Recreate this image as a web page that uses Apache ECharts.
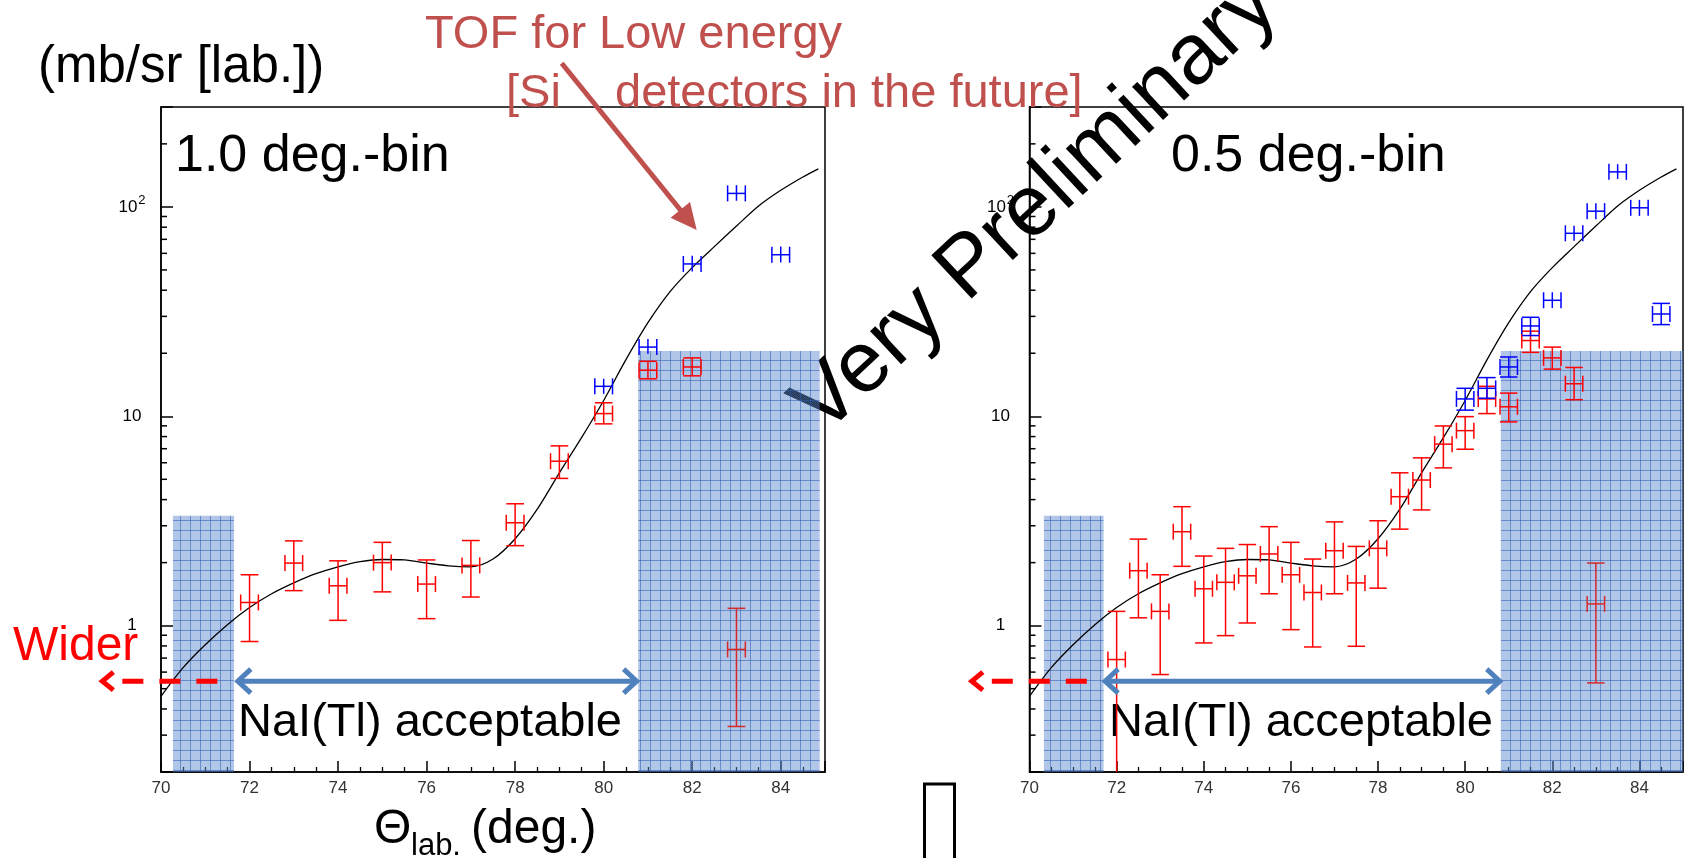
<!DOCTYPE html>
<html>
<head>
<meta charset="utf-8">
<title>Elastic scattering cross section</title>
<script src="https://cdn.jsdelivr.net/npm/echarts@6/dist/echarts.min.js"></script>
<style>
  html, body { margin: 0; padding: 0; background: #fff; }
  #chart { width: 1686px; height: 858px; }
</style>
</head>
<body>
<div id="chart"></div>
<script>
// theory curve (mb/sr, lab)
const theoryX = [70, 70.5, 71, 71.5, 72, 72.5, 73, 73.5, 74, 74.5, 75, 75.5, 76, 76.5, 77, 77.5, 78, 78.5, 79, 79.5, 80, 80.5, 81, 81.5, 82, 82.5, 83, 83.5, 84, 84.5, 84.85]
const theoryY = [0.46, 0.63, 0.81, 1.01, 1.22, 1.42, 1.6, 1.77, 1.91, 2.02, 2.07, 2.06, 1.99, 1.93, 1.91, 2.08, 2.6, 3.6, 5.37, 7.9, 11.9, 18.6, 28.0, 39.4, 51.3, 64.6, 81, 101, 120, 139, 152]

// 1.0 deg.-bin : NaI (red) and Si (blue)
const bin10RedX = [72, 73, 74, 75, 76, 77, 78, 79, 80, 81, 82]
const bin10RedY = [1.29, 1.99, 1.55, 2.0, 1.58, 1.94, 3.1, 6.1, 10.3, 16.6, 17.2]
const bin10RedLo = [0.84, 1.47, 1.06, 1.45, 1.08, 1.37, 2.41, 5.05, 9.2, 15.1, 15.6]
const bin10RedHi = [1.75, 2.54, 2.04, 2.5, 2.06, 2.55, 3.82, 7.22, 11.6, 18.3, 19.0]
const bin10FarX = [83]
const bin10FarY = [0.77]
const bin10FarLo = [0.33]
const bin10FarHi = [1.21]
const bin10BlueX = [80, 81, 82, 83, 84]
const bin10BlueY = [13.9, 21.4, 53.4, 116, 59.1]
const bin10BlueLo = [12.8, 19.9, 49.2, 107, 54.3]
const bin10BlueHi = [15.1, 23.4, 58.4, 127, 64.7]

// 0.5 deg.-bin
const bin05RedX = [72, 72.5, 73, 73.5, 74, 74.5, 75, 75.5, 76, 76.5, 77, 77.5, 78, 78.5, 79, 79.5, 80, 80.5, 81, 81.5, 82, 82.5]
const bin05RedY = [0.689, 1.83, 1.17, 2.81, 1.5, 1.61, 1.73, 2.2, 1.75, 1.44, 2.28, 1.6, 2.34, 4.13, 4.96, 7.36, 8.54, 12.1, 11.1, 23.0, 19.0, 14.3]
const bin05RedLo = [0.15, 1.09, 0.584, 1.92, 0.827, 0.896, 1.03, 1.42, 0.957, 0.791, 1.42, 0.797, 1.51, 2.89, 3.57, 5.67, 6.96, 10.3, 9.4, 20.2, 16.8, 12.0]
const bin05RedHi = [1.17, 2.59, 1.75, 3.7, 2.15, 2.34, 2.44, 2.97, 2.5, 2.08, 3.13, 2.39, 3.17, 5.37, 6.33, 8.99, 9.96, 13.9, 12.9, 25.5, 21.4, 17.1]
const bin05FarX = [83]
const bin05FarY = [1.27]
const bin05FarLo = [0.533]
const bin05FarHi = [1.99]
const bin05BlueX = [80, 80.5, 81, 81.5, 82, 82.5, 83, 83.5, 84, 84.5]
const bin05BlueY = [12.1, 13.6, 17.2, 27.0, 35.8, 74.8, 95.4, 147, 99, 30.8]
const bin05BlueLo = [10.7, 12.2, 15.4, 24.3, 32.9, 68.9, 87.3, 136, 90.6, 27.4]
const bin05BlueHi = [13.6, 15.3, 19.2, 29.7, 39.1, 81.2, 104, 160, 108, 34.6]

// shaded (not acceptable) angular regions
const shade10X0 = [70.27, 80.78]
const shade10X1 = [71.65, 84.88]
const shade10Top = [3.35, 20.5]
const shade05X0 = [70.33, 80.82]
const shade05X1 = [71.7, 85]
const shade05Top = [3.35, 20.5]

// axis ticks
const xTickLabels = [70, 72, 74, 76, 78, 80, 82, 84]
const yMinorTicks = [0.2, 0.3, 0.4, 0.5, 0.6, 0.7, 0.8, 0.9, 2, 3, 4, 5, 6, 7, 8, 9, 20, 30, 40, 50, 60, 70, 80, 90, 200]

const X_ERR = 0.2
const Y_MIN = 0.2, Y_MAX = 300
const FONT = "'Liberation Sans', Arial, sans-serif"

const chart = echarts.init(document.getElementById('chart'))

function gridPattern() {
  const c = document.createElement('canvas')
  c.width = 10
  c.height = 10
  const g = c.getContext('2d')
  g.fillStyle = 'rgba(70,120,200,0.45)'
  g.fillRect(0, 0, 10, 10)
  g.fillStyle = 'rgba(255,255,255,0.12)'
  for (let i = 0; i < 10; i++) {
    for (let j = 0; j < 10; j++) {
      if ((i + j) % 2) g.fillRect(i, j, 1, 1)
    }
  }
  g.fillStyle = 'rgba(40,95,175,0.55)'
  g.fillRect(0, 0, 10, 1)
  g.fillRect(0, 0, 1, 10)
  return c
}
const pattern = gridPattern()

function rows(...cols) {
  return cols[0].map((_, i) => cols.map(c => c[i]))
}

// ROOT-like error bar: caps only when the bar is longer than the end size
function errRender(color) {
  return function (params, api) {
    const x = api.value(0), y = api.value(1)
    const c = api.coord([x, y])
    const l = api.coord([x - X_ERR, y])[0]
    const r = api.coord([x + X_ERR, y])[0]
    const t = api.coord([x, api.value(3)])[1]
    const b = api.coord([x, api.value(2)])[1]
    const hw = (r - l) / 2, eh = 8
    const style = { stroke: color, lineWidth: 1.5, fill: 'none' }
    const seg = (x1, y1, x2, y2) => ({ type: 'line', shape: { x1, y1, x2, y2 }, style })
    const kids = [
      seg(c[0], t, c[0], b),
      seg(l, c[1], r, c[1]),
      seg(l, c[1] - eh, l, c[1] + eh),
      seg(r, c[1] - eh, r, c[1] + eh)
    ]
    if (c[1] - t > 8.5) kids.push(seg(c[0] - hw, t, c[0] + hw, t))
    if (b - c[1] > 8.5) kids.push(seg(c[0] - hw, b, c[0] + hw, b))
    return { type: 'group', children: kids }
  }
}

function shadeRender(params, api) {
  const p0 = api.coord([api.value(0), api.value(2)])
  const p1 = api.coord([api.value(1), Y_MIN])
  return {
    type: 'rect',
    shape: { x: p0[0], y: p0[1], width: p1[0] - p0[0], height: p1[1] - p0[1] },
    style: { fill: { image: pattern, repeat: 'repeat' } }
  }
}

function minorTickRender(params, api) {
  const p = api.coord([api.value(0), api.value(1)])
  return {
    type: 'line',
    shape: { x1: p[0], y1: p[1], x2: p[0] + 6, y2: p[1] },
    style: { stroke: '#000', lineWidth: 1.5 }
  }
}

// NaI acceptable double arrow + "wider" dashed arrow
function arrowRender(naiRange, widerRange) {
  const level = 0.543
  return function (params, api) {
    const a = api.coord([naiRange[0], level])
    const b = api.coord([naiRange[1], level])
    const ra = api.coord([widerRange[0], level])
    const rb = api.coord([widerRange[1], level])
    const blue = { stroke: '#4f81bd', lineWidth: 5, fill: 'none' }
    const red = { stroke: '#ff0000', lineWidth: 5, fill: 'none' }
    return {
      type: 'group',
      children: [
        { type: 'line', shape: { x1: a[0] + 3, y1: a[1], x2: b[0] - 3, y2: b[1] }, style: blue },
        { type: 'polyline', shape: { points: [[a[0] + 15, a[1] - 12], [a[0] + 2, a[1]], [a[0] + 15, a[1] + 12]] }, style: blue },
        { type: 'polyline', shape: { points: [[b[0] - 15, b[1] - 12], [b[0] - 2, b[1]], [b[0] - 15, b[1] + 12]] }, style: blue },
        { type: 'polyline', shape: { points: [[ra[0] + 13, ra[1] - 9], [ra[0] + 2, ra[1]], [ra[0] + 13, ra[1] + 9]] }, style: red },
        { type: 'line', shape: { x1: ra[0] + 22, y1: ra[1], x2: rb[0], y2: rb[1] }, style: Object.assign({ lineDash: [21, 16] }, red) }
      ]
    }
  }
}

function decadeLabel(v) {
  const e = Math.log10(v)
  if (Math.abs(e - Math.round(e)) > 1e-6) return ''
  const n = Math.round(e)
  if (n === 0) return '1'
  if (n === 1) return '10'
  return '10{sup|' + n + '}'
}

function panel(idx, d) {
  const ax = { xAxisIndex: idx, yAxisIndex: idx }
  return [
    {
      type: 'custom', ...ax, z: 3, silent: true, clip: true,
      data: rows(d.shadeX0, d.shadeX1, d.shadeTop),
      encode: { x: [0, 1], y: 2 },
      renderItem: shadeRender
    },
    {
      type: 'custom', ...ax, z: 2, silent: true, clip: false,
      data: yMinorTicks.map(v => [70, v]),
      renderItem: minorTickRender
    },
    {
      type: 'line', ...ax, z: 4, silent: true,
      data: rows(theoryX, theoryY),
      showSymbol: false, smooth: 0.3,
      lineStyle: { color: '#000', width: 1.3 }
    },
    {
      type: 'custom', ...ax, z: 5, clip: true,
      data: rows(d.farX, d.farY, d.farLo, d.farHi),
      encode: { x: 0, y: 1 },
      renderItem: errRender('#d42a2a')
    },
    {
      type: 'custom', ...ax, z: 6, clip: true,
      data: rows(d.redX, d.redY, d.redLo, d.redHi),
      encode: { x: 0, y: 1 },
      renderItem: errRender('#ff0000')
    },
    {
      type: 'custom', ...ax, z: 6, clip: true,
      data: rows(d.blueX, d.blueY, d.blueLo, d.blueHi),
      encode: { x: 0, y: 1 },
      renderItem: errRender('#0000ff')
    },
    {
      type: 'custom', ...ax, z: 7, silent: true, clip: false,
      data: [[75, 1]],
      renderItem: arrowRender(d.nai, [68.63, 71.33])
    }
  ]
}

function xAxis(idx) {
  return {
    type: 'value', gridIndex: idx, min: 70, max: 85, interval: 2,
    axisLine: { onZero: false, lineStyle: { color: '#000', width: 1.5 } },
    axisTick: { inside: true, length: 11, lineStyle: { color: '#000', width: 1.5 } },
    minorTick: { show: true, splitNumber: 4, length: 5, lineStyle: { color: '#000', width: 1.3 } },
    axisLabel: {
      fontFamily: FONT, fontSize: 17, color: '#333', margin: 8,
      formatter: v => (xTickLabels.indexOf(v) >= 0 ? String(v) : '')
    },
    splitLine: { show: false }
  }
}

function yAxis(idx) {
  return {
    type: 'log', logBase: 10, gridIndex: idx, min: Y_MIN, max: Y_MAX,
    axisLine: { show: true, lineStyle: { color: '#000', width: 1.5 } },
    axisTick: { show: true, inside: true, length: 12, lineStyle: { color: '#000', width: 1.5 } },
    axisLabel: {
      fontFamily: FONT, fontSize: 17, color: '#000', margin: 29, align: 'center',
      formatter: decadeLabel,
      rich: { sup: { fontFamily: FONT, fontSize: 13, color: '#000', padding: [0, 0, 12, 1] } }
    },
    splitLine: { show: false },
    minorSplitLine: { show: false }
  }
}

function txt(x, y, text, size, color) {
  return {
    type: 'text', x, y, z: 1, silent: true,
    style: { text, fontFamily: FONT, fontSize: size, fill: color || '#000', align: 'left', verticalAlign: 'middle' }
  }
}

const RED_NOTE = '#c0504d'

chart.setOption({
  animation: false,
  backgroundColor: '#fff',
  grid: [
    { left: 161, top: 107, width: 664, height: 665, show: true, borderColor: '#000', borderWidth: 1.5, backgroundColor: 'transparent' },
    { left: 1029.5, top: 107, width: 664, height: 665, show: true, borderColor: '#000', borderWidth: 1.5, backgroundColor: 'transparent' }
  ],
  xAxis: [xAxis(0), xAxis(1)],
  yAxis: [yAxis(0), yAxis(1)],
  series: [
    ...panel(0, {
      redX: bin10RedX, redY: bin10RedY, redLo: bin10RedLo, redHi: bin10RedHi,
      farX: bin10FarX, farY: bin10FarY, farLo: bin10FarLo, farHi: bin10FarHi,
      blueX: bin10BlueX, blueY: bin10BlueY, blueLo: bin10BlueLo, blueHi: bin10BlueHi,
      shadeX0: shade10X0, shadeX1: shade10X1, shadeTop: shade10Top,
      nai: [71.69, 80.79]
    }),
    ...panel(1, {
      redX: bin05RedX, redY: bin05RedY, redLo: bin05RedLo, redHi: bin05RedHi,
      farX: bin05FarX, farY: bin05FarY, farLo: bin05FarLo, farHi: bin05FarHi,
      blueX: bin05BlueX, blueY: bin05BlueY, blueLo: bin05BlueLo, blueHi: bin05BlueHi,
      shadeX0: shade05X0, shadeX1: shade05X1, shadeTop: shade05Top,
      nai: [71.69, 80.84]
    })
  ],
  graphic: [
    txt(38, 68, '(mb/sr [lab.])', 51),
    txt(425, 35, 'TOF for Low energy', 47, RED_NOTE),
    txt(506, 94, '[Si', 47, RED_NOTE),
    txt(615, 94, 'detectors in the future]', 47, RED_NOTE),
    txt(175, 157, '1.0 deg.-bin', 52),
    txt(1171, 157, '0.5 deg.-bin', 52),
    txt(13, 647, 'Wider', 48, '#ff0000'),
    txt(238, 723, 'NaI(Tl) acceptable', 47),
    txt(1109, 723, 'NaI(Tl) acceptable', 47),
    txt(374, 830, 'Θ', 48),
    txt(411, 846, 'lab.', 31),
    txt(471, 830, '(deg.)', 48),
    {
      type: 'line', z: 10, silent: true,
      shape: { x1: 561.7, y1: 63.3, x2: 682, y2: 212 },
      style: { stroke: RED_NOTE, lineWidth: 5 }
    },
    {
      type: 'polygon', z: 10, silent: true,
      shape: { points: [[696.7, 230], [670.6, 217.7], [690.0, 201.9]] },
      style: { fill: RED_NOTE }
    },
    {
      type: 'rect', z: 1, silent: true,
      shape: { x: 924.5, y: 784, width: 30, height: 90 },
      style: { fill: 'none', stroke: '#000', lineWidth: 3 }
    },
    {
      type: 'text', z: 1, silent: true,
      x: 1036, y: 206, rotation: 43 * Math.PI / 180,
      style: { text: 'Very Preliminary', fontFamily: FONT, fontSize: 86, fill: '#000', align: 'center', verticalAlign: 'middle' }
    }
  ]
})
</script>
</body>
</html>
